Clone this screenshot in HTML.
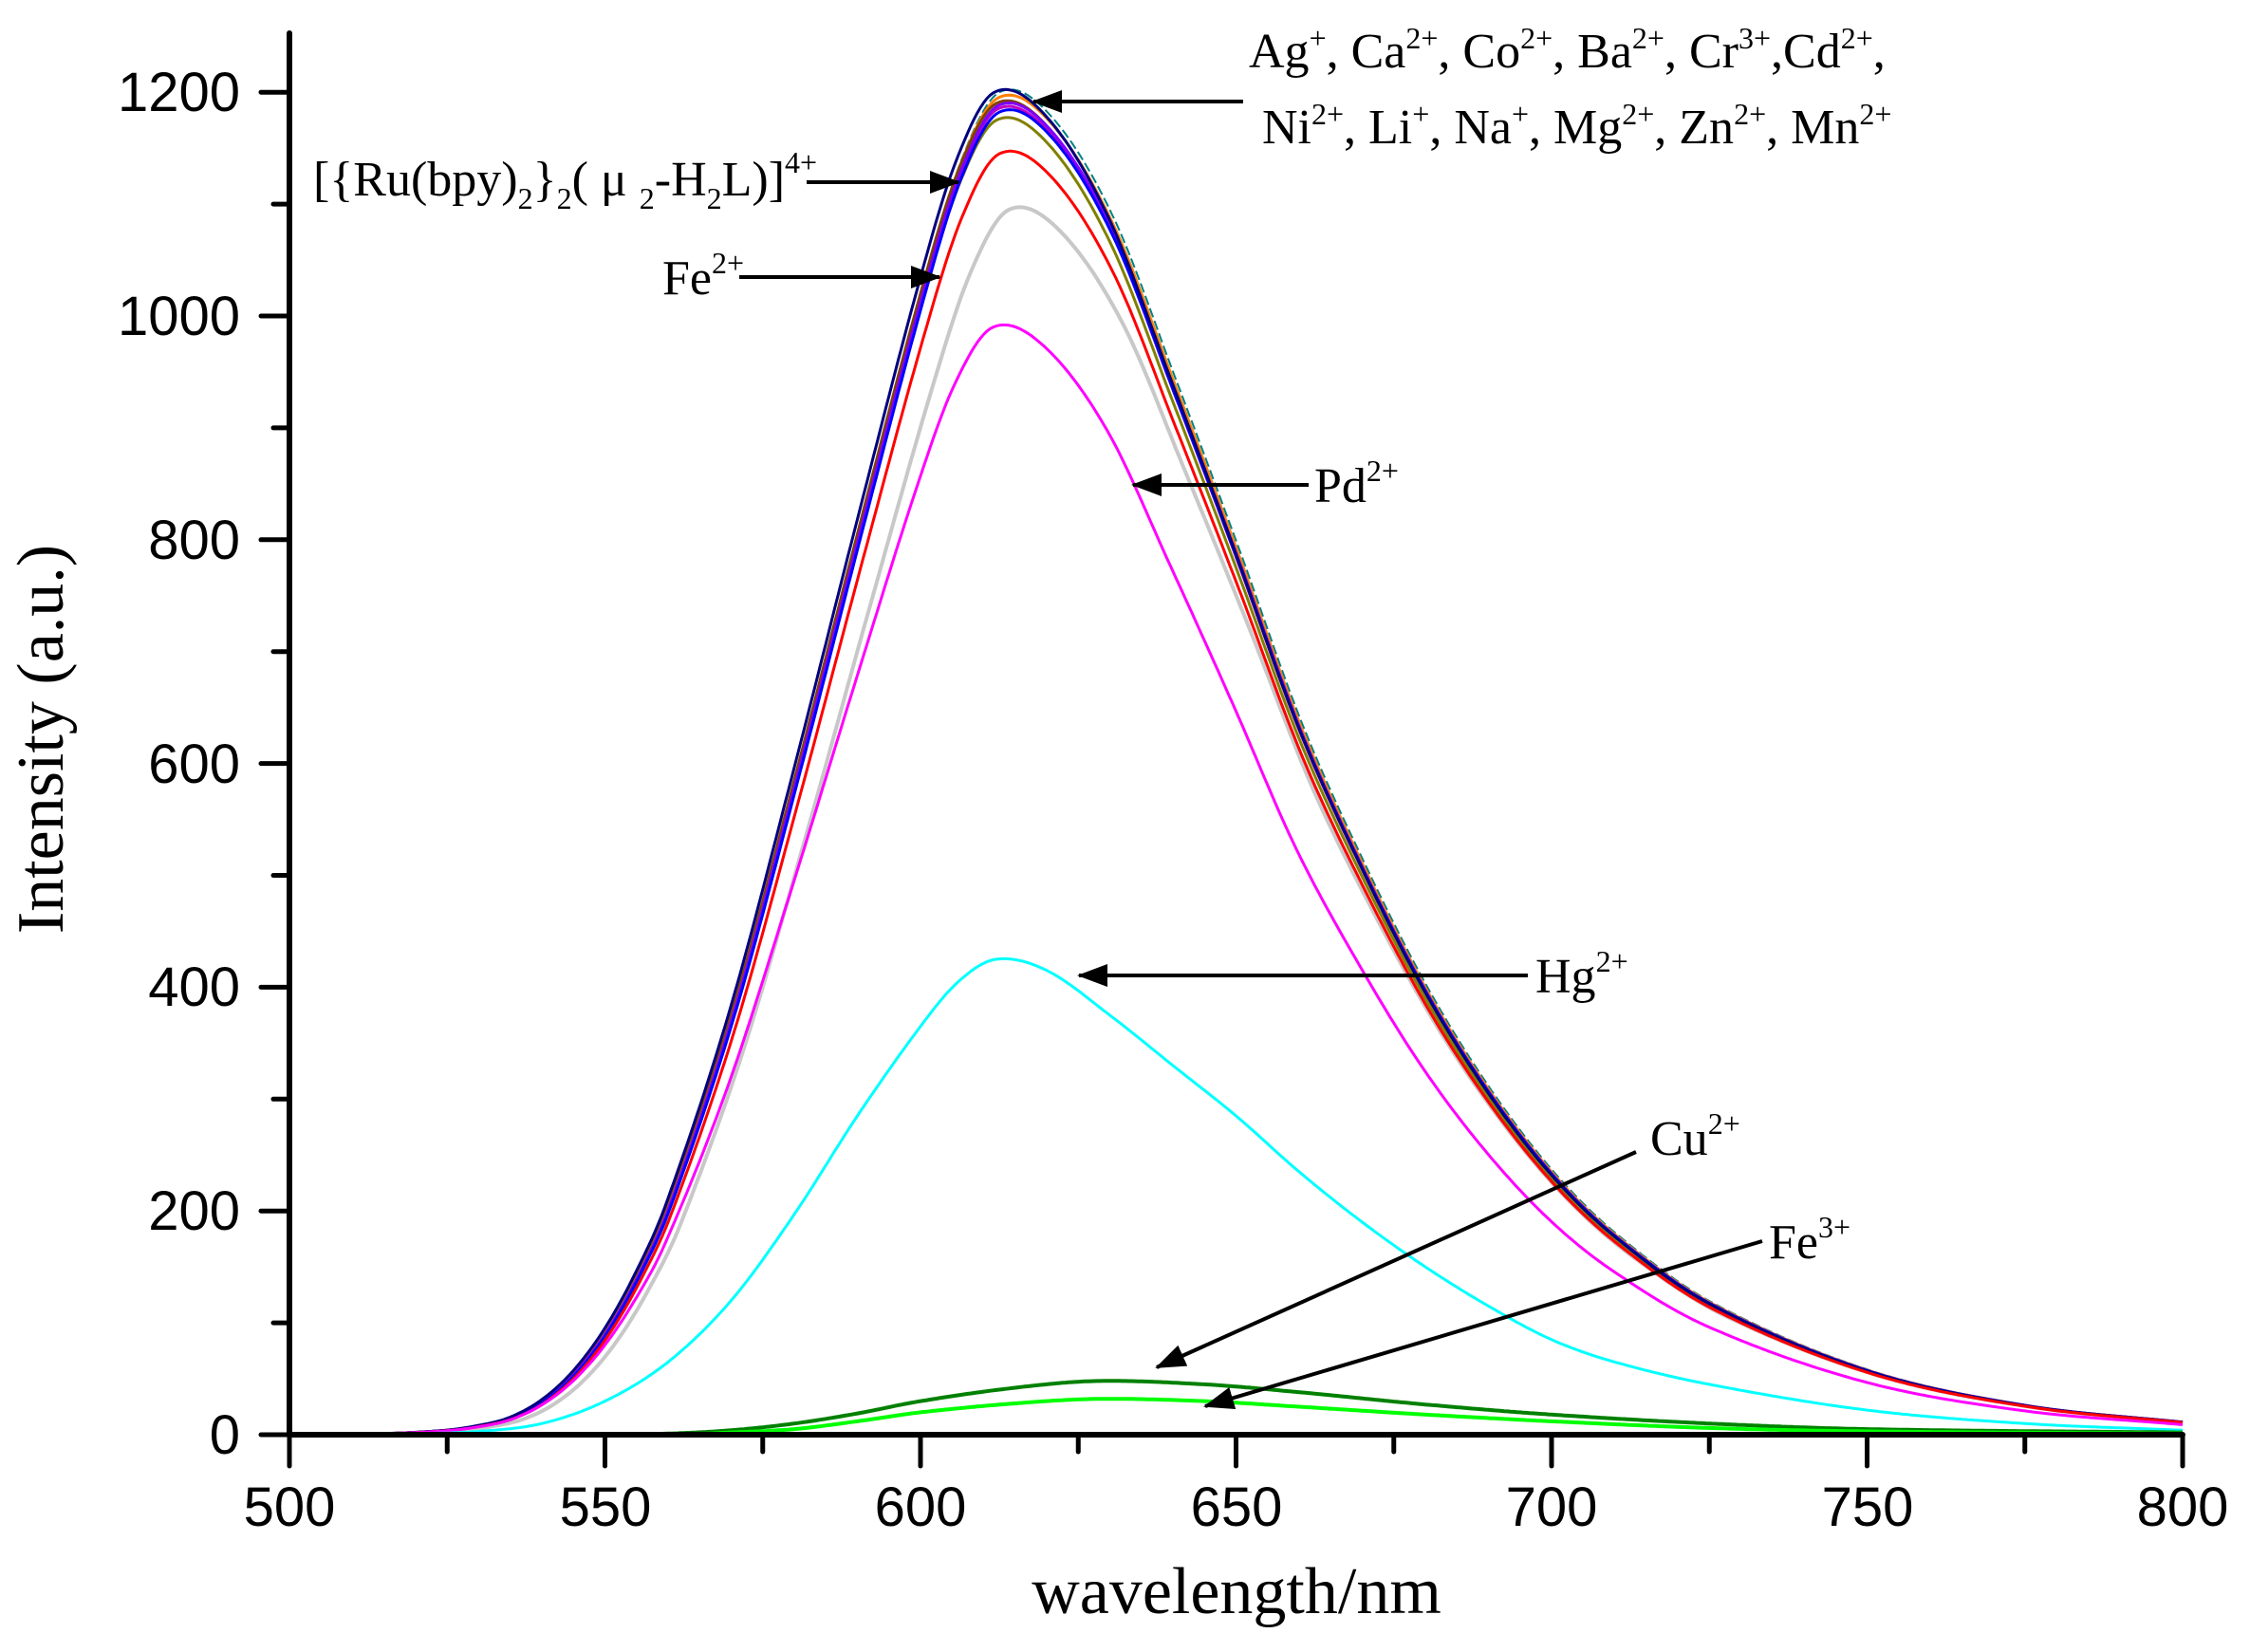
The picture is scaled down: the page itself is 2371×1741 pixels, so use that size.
<!DOCTYPE html>
<html><head><meta charset="utf-8"><style>
html,body{margin:0;padding:0;background:#fff;}
svg{display:block;}
.t{font-family:"Liberation Serif",serif;fill:#000;}
.n{font-family:"Liberation Sans",sans-serif;font-size:58px;fill:#000;}
</style></head><body>
<svg id="s" width="2371" height="1741" viewBox="0 0 2371 1741" xmlns="http://www.w3.org/2000/svg">
<defs>
<marker id="ah" markerWidth="8" markerHeight="6" refX="7.5" refY="3" orient="auto" markerUnits="strokeWidth">
<path d="M0,0 L8,3 L0,6 z" fill="#000"/></marker>
</defs>
<g id="curves" fill="none" stroke-width="3" stroke-linejoin="round"></g>
<g stroke="#000" stroke-width="6" stroke-linecap="round">
<line x1="305" y1="35" x2="305" y2="1512"/>
<line x1="305" y1="1512" x2="2300" y2="1512"/>
</g>
<g id="ticks" stroke="#000" stroke-width="5" stroke-linecap="round"></g>
<g class="n" text-anchor="end">
<text x="253" y="1532">0</text>
<text x="253" y="1296">200</text>
<text x="253" y="1060">400</text>
<text x="253" y="825">600</text>
<text x="253" y="589">800</text>
<text x="253" y="353">1000</text>
<text x="253" y="117">1200</text>
</g>
<g class="n" text-anchor="middle">
<text x="305" y="1608">500</text>
<text x="638" y="1608">550</text>
<text x="970" y="1608">600</text>
<text x="1303" y="1608">650</text>
<text x="1635" y="1608">700</text>
<text x="1968" y="1608">750</text>
<text x="2300" y="1608">800</text>
</g>
<text class="t" x="1303" y="1700" font-size="70" text-anchor="middle">wavelength/nm</text>
<text class="t" font-size="70" text-anchor="middle" transform="translate(66,779) rotate(-90)">Intensity (a.u.)</text>
<g class="t" font-size="52">
<text x="1316" y="71">Ag<tspan dy="-20" font-size="32">+</tspan><tspan dy="20">, Ca</tspan><tspan dy="-20" font-size="32">2+</tspan><tspan dy="20">, Co</tspan><tspan dy="-20" font-size="32">2+</tspan><tspan dy="20">,  Ba</tspan><tspan dy="-20" font-size="32">2+</tspan><tspan dy="20">, Cr</tspan><tspan dy="-20" font-size="32">3+</tspan><tspan dy="20">,Cd</tspan><tspan dy="-20" font-size="32">2+</tspan><tspan dy="20">,</tspan></text>
<text x="1330" y="151">Ni<tspan dy="-20" font-size="32">2+</tspan><tspan dy="20">, Li</tspan><tspan dy="-20" font-size="32">+</tspan><tspan dy="20">, Na</tspan><tspan dy="-20" font-size="32">+</tspan><tspan dy="20">, Mg</tspan><tspan dy="-20" font-size="32">2+</tspan><tspan dy="20">, Zn</tspan><tspan dy="-20" font-size="32">2+</tspan><tspan dy="20">, Mn</tspan><tspan dy="-20" font-size="32">2+</tspan></text>
<text x="330" y="206">[{Ru(bpy)<tspan dy="14" font-size="32">2</tspan><tspan dy="-14">}</tspan><tspan dy="14" font-size="32">2</tspan><tspan dy="-14">( μ </tspan><tspan dy="14" font-size="32">2</tspan><tspan dy="-14">-H</tspan><tspan dy="14" font-size="32">2</tspan><tspan dy="-14">L)]</tspan><tspan dy="-24" font-size="32">4+</tspan></text>
<text x="698" y="310">Fe<tspan dy="-22" font-size="32">2+</tspan></text>
<text x="1385" y="529">Pd<tspan dy="-22" font-size="32">2+</tspan></text>
<text x="1618" y="1046">Hg<tspan dy="-22" font-size="32">2+</tspan></text>
<text x="1739" y="1217">Cu<tspan dy="-22" font-size="32">2+</tspan></text>
<text x="1864" y="1326">Fe<tspan dy="-22" font-size="32">3+</tspan></text>
</g>
<g stroke="#000" stroke-width="4" fill="none" marker-end="url(#ah)">
<line x1="1310" y1="107" x2="1089" y2="107"/>
<line x1="850" y1="192" x2="1010" y2="192"/>
<line x1="779" y1="292" x2="990" y2="292"/>
<line x1="1379" y1="511" x2="1194" y2="511"/>
<line x1="1610" y1="1028" x2="1137" y2="1028"/>
<line x1="1724" y1="1214" x2="1219" y2="1441"/>
<line x1="1857" y1="1308" x2="1270" y2="1482"/>
</g>
</svg>
<script>
(function(){
var NS="http://www.w3.org/2000/svg";
function X(l){return 305+(l-500)*6.65;}
function Y(v){return 1512-v*1.179;}
var tk=document.getElementById('ticks');
function ln(x1,y1,x2,y2){var e=document.createElementNS(NS,'line');e.setAttribute('x1',x1);e.setAttribute('y1',y1);e.setAttribute('x2',x2);e.setAttribute('y2',y2);tk.appendChild(e);}
for(var l=500;l<=800;l+=25){var maj=(l%50==0);ln(X(l),1512,X(l),1512+(maj?33:18));}
for(var v=0;v<=1200;v+=100){var maj=(v%200==0);ln(305,Y(v),305-(maj?30:17),Y(v));}
function mk(pts){return function(l){
 if(l<=pts[0][0])return pts[0][1];
 for(var i=0;i<pts.length-1;i++){if(l<=pts[i+1][0]){
  var p0=pts[Math.max(0,i-1)],p1=pts[i],p2=pts[i+1],p3=pts[Math.min(pts.length-1,i+2)];
  var t=(l-p1[0])/(p2[0]-p1[0]);
  var m1=(p2[1]-p0[1])/(p2[0]-p0[0])*(p2[0]-p1[0]);
  var m2=(p3[1]-p1[1])/(p3[0]-p1[0])*(p2[0]-p1[0]);
  var t2=t*t,t3=t2*t;
  return (2*t3-3*t2+1)*p1[1]+(t3-2*t2+t)*m1+(-2*t3+3*t2)*p2[1]+(t3-t2)*m2;}}
 return pts[pts.length-1][1];};}
var main=mk([[500,0],[515,1],[525,4],[530,8],[535,15],[540,30],[545,55],[550,92],[555,142],[560,205],[570,375],[580,585],[590,805],[600,1020],[606,1130],[612,1190],[620,1170],[630,1080],[640,935],[650,785],[660,630],[670,505],[680,395],[690,305],[700,232],[710,177],[725,117],[750,57],[775,26],[800,11]]);
var hg=mk([[500,0],[520,1],[530,3],[540,10],[550,30],[560,65],[570,120],[580,197],[590,285],[600,365],[606,405],[612,425],[620,415],[630,375],[640,330],[650,285],[660,235],[670,190],[680,150],[690,115],[700,85],[710,65],[725,45],[750,22],[775,10],[800,4]]);
var cu=mk([[500,0],[550,0],[560,1],[570,4],[580,10],[590,19],[600,30],[615,42],[628,48],[645,45],[660,38],[680,27],[700,18],[725,10],[750,5],[800,2]]);
var fe3=mk([[500,0],[560,0],[570,2],[580,5],[590,12],[600,20],[615,28],[628,32],[645,30],[660,25],[680,18],[700,12],[725,6],[750,3],[800,1]]);
var g=document.getElementById('curves');
function draw(f,col,sc,sh,w,dash){
 var d='';for(var l=500;l<=800;l+=0.5){var v=f(l-sh)*sc;d+=(l==500?'M':'L')+X(l).toFixed(1)+','+Y(v).toFixed(1);}
 var p=document.createElementNS(NS,'path');p.setAttribute('d',d);p.setAttribute('stroke',col);p.setAttribute('stroke-width',w||3);if(dash)p.setAttribute('stroke-dasharray',dash);g.appendChild(p);}
draw(main,'#c8c8c8',1095/1190,2,4);
draw(main,'#008080',1200/1190,0.5,2,'10,4');
draw(main,'#ff8000',1195/1190,0.3);
draw(main,'#804000',1190/1190,0);
draw(main,'#808000',1175/1190,0);
draw(main,'#c000c0',1185/1190,0.2);
draw(main,'#7f00ff',1188/1190,0.3);
draw(main,'#0000ff',1182/1190,0.4);
draw(main,'#000080',1200/1190,-0.3);
draw(main,'#ff0000',1145/1190,0.5);
draw(main,'#ff00ff',990/1190,-0.5);
draw(hg,'#00ffff',1,0);
draw(cu,'#008000',1,0,4);
draw(fe3,'#00ff00',1,0,4);
})();
</script>
</body></html>
